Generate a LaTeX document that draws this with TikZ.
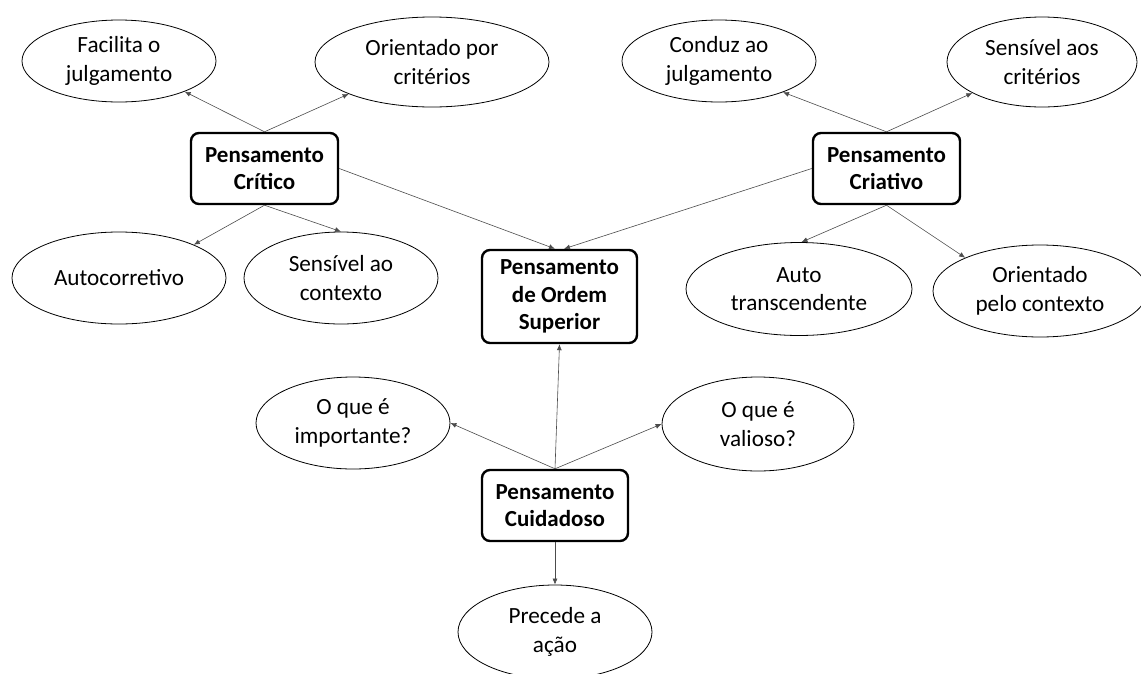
\documentclass[tikz,border=0pt]{standalone}
\usepackage{fontspec}
\setmainfont{Carlito}
\usetikzlibrary{shapes.geometric,arrows.meta,calc}
\begin{document}
\begin{tikzpicture}[x=1pt,y=-1pt,
  oval/.style={ellipse,draw,line width=0.8pt,inner sep=0pt,align=center,font=\fontsize{23.2}{28.5}\selectfont},
  pbox/.style={rectangle,rounded corners=8pt,draw,line width=2.4pt,inner sep=0pt,align=center,font=\fontsize{23}{27.5}\selectfont\bfseries},
  conn/.style={line width=0.6pt,draw=black!70,-{Latex[length=6pt,width=5pt]}}]
\path[fill=white,use as bounding box] (0,0) rectangle (1141,673);

\node[oval,minimum width=194pt,minimum height=82pt] (facil) at (119,61) {Facilita o\\julgamento};
\node[oval,minimum width=234pt,minimum height=90pt] (orcrit) at (432,62) {Orientado por\\critérios};
\node[pbox,minimum width=147pt,minimum height=71pt] (crit) at (264.5,168.5) {Pensamento\\Crítico};
\node[oval,minimum width=214pt,minimum height=92pt] (autoc) at (119,278) {Autocorretivo};
\node[oval,minimum width=194pt,minimum height=92pt] (sensctx) at (341,278) {Sensível ao\\contexto};
\node[pbox,minimum width=155pt,minimum height=93pt] (ordem) at (559.5,296.5) {Pensamento\\de Ordem\\Superior};
\node[oval,minimum width=194pt,minimum height=82pt] (conduz) at (719,61) {Conduz ao\\julgamento};
\node[oval,minimum width=190pt,minimum height=90pt] (senscrit) at (1042,62) {Sensível aos\\critérios};
\node[pbox,minimum width=147pt,minimum height=71pt] (cria) at (886.5,168.5) {Pensamento\\Criativo};
\node[oval,minimum width=226pt,minimum height=93pt] (autot) at (799,289) {Auto\\transcendente};
\node[oval,minimum width=214pt,minimum height=92pt] (orctx) at (1040,291) {Orientado\\pelo contexto};
\node[oval,minimum width=194pt,minimum height=92pt] (imp) at (353,423) {O que é\\importante?};
\node[oval,minimum width=192pt,minimum height=94pt] (val) at (758,424) {O que é\\valioso?};
\node[pbox,minimum width=146pt,minimum height=71pt] (cuid) at (555,505.5) {Pensamento\\Cuidadoso};
\node[oval,minimum width=194pt,minimum height=94pt] (prec) at (555,632) {Precede a\\ação};

\draw[conn] (crit.north) -- (facil.-25);
\draw[conn] (crit.north) -- (orcrit.-159);
\draw[conn] (crit.south) -- (autoc.24);
\draw[conn] (crit.south) -- (sensctx.north);
\draw[conn] (crit.east) -- ([xshift=-4.5pt]ordem.north);
\draw[conn] (cria.north) -- (conduz.-26);
\draw[conn] (cria.north) -- (senscrit.-156);
\draw[conn] (cria.south) -- (autot.87);
\draw[conn] (cria.south) -- (orctx.156);
\draw[conn] (cria.west) -- ([xshift=4.5pt]ordem.north);
\draw[conn] (cuid.north) -- (imp.east);
\draw[conn] (cuid.north) -- (val.west);
\draw[conn] (cuid.north) -- (ordem.south);
\draw[conn] (cuid.south) -- (prec.north);
\end{tikzpicture}
\end{document}
